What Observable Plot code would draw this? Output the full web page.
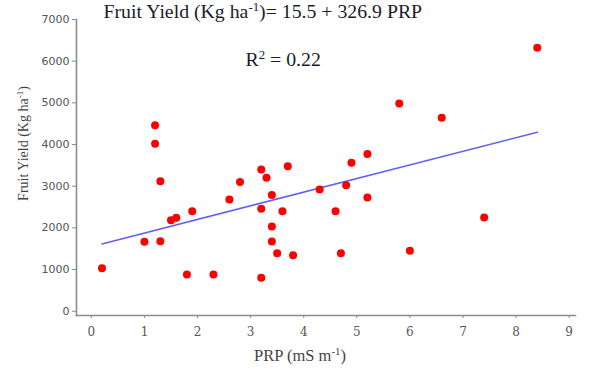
<!DOCTYPE html>
<html>
<head>
<meta charset="utf-8">
<script src="https://cdn.jsdelivr.net/npm/d3@7"></script>
<script src="https://cdn.jsdelivr.net/npm/@observablehq/plot@0.6"></script>
<style>
  html, body { margin: 0; padding: 0; background: #fff; }
  #chart svg { display: block; }
</style>
</head>
<body>
<div id="chart"></div>
<script>
// PRP (mS m-1) values of each observation
const prp = [0.2, 1.0, 1.2, 1.2, 1.3, 1.3, 1.5, 1.6, 1.8, 1.9, 2.3, 2.6, 2.8, 3.2, 3.2, 3.2, 3.3, 3.4,
             3.4, 3.4, 3.5, 3.6, 3.7, 3.8, 4.3, 4.6, 4.7, 4.8, 4.9, 5.2, 5.2, 5.8, 6.0, 6.6, 7.4, 8.4];
// Fruit yield (Kg ha-1) of each observation
const fruitYield = [1030, 1665, 4460, 4020, 3120, 1680, 2180, 2240, 880, 2400, 880, 2680, 3100, 3400, 2460, 800, 3200, 2790,
                    2030, 1670, 1390, 2400, 3480, 1345, 2920, 2400, 1390, 3020, 3560, 3770, 2730, 4985, 1450, 4640, 2250, 6320];
// fitted trend line end points
const trendX = [0.2, 8.4];
const trendY = [1615, 4296];
// tick values
const xTicks = [0, 1, 2, 3, 4, 5, 6, 7, 8, 9];
const yTicks = [0, 1000, 2000, 3000, 4000, 5000, 6000, 7000];
// texts
const titleText = "Fruit Yield (Kg ha^{-1})= 15.5 + 326.9 PRP";
const r2Text = "R^{2} = 0.22";
const xLabel = "PRP (mS m^{-1})";
const yLabel = "Fruit Yield (Kg ha^{-1})";

const points = prp.map((x, i) => ({x, y: fruitYield[i]}));
const trend = trendX.map((x, i) => ({x, y: trendY[i]}));

const axisGray = "#8c8c8c";
const serif = "'Liberation Serif', 'Times New Roman', serif";

const chart = Plot.plot({
  width: 589,
  height: 371,
  marginLeft: 76,
  marginRight: 14,
  marginTop: 19,
  marginBottom: 56,
  style: {background: "#fff", fontFamily: serif},
  x: {domain: [-0.28, 9.12]},
  y: {domain: [-103, 7000]},
  marks: [
    Plot.frame({anchor: "left", stroke: axisGray, strokeWidth: 1.6}),
    Plot.frame({anchor: "bottom", stroke: axisGray, strokeWidth: 1.6}),
    Plot.axisY({ticks: yTicks, tickSize: 4, tickPadding: 3, stroke: axisGray, fill: "#555",
                fontSize: 11, fontFamily: "'DejaVu Sans', Verdana, sans-serif", label: null, tickFormat: d => String(d)}),
    Plot.axisX({ticks: xTicks, tickSize: 3, tickPadding: 9, stroke: axisGray, fill: "#555",
                fontSize: 12, fontFamily: "'DejaVu Serif', serif", label: null, tickFormat: d => String(d)}),
    Plot.line(trend, {x: "x", y: "y", stroke: "#6060f4", strokeWidth: 1.5}),
    Plot.dot(points, {x: "x", y: "y", r: 4, fill: "#ff0000", stroke: "none"}),
    Plot.text([titleText], {frameAnchor: "top-left", text: d => d, textAnchor: "start", lineAnchor: "top",
                dx: 27, dy: -16, fontSize: 19.8, fill: "#1c1c2c", fontFamily: serif}),
    Plot.text([r2Text], {frameAnchor: "top-left", text: d => d, textAnchor: "start", lineAnchor: "top",
                dx: 169, dy: 32, fontSize: 19.8, fill: "#1c1c2c", fontFamily: serif}),
    Plot.text([xLabel], {frameAnchor: "bottom", text: d => d, textAnchor: "middle", lineAnchor: "top",
                dx: -26, dy: 34, fontSize: 16.5, fill: "#444", fontFamily: serif}),
    Plot.text([yLabel], {frameAnchor: "left", text: d => d, textAnchor: "middle", lineAnchor: "middle",
                rotate: -90, dx: -53, dy: -24, fontSize: 14, fill: "#444", fontFamily: serif})
  ]
});

// turn ^{...} into superscript tspans
chart.querySelectorAll("text, tspan").forEach(el => {
  if (el.children.length) return;
  const s = el.textContent;
  if (!s.includes("^{")) return;
  el.textContent = "";
  const re = /\^\{([^}]*)\}/g;
  let last = 0, m;
  const ns = "http://www.w3.org/2000/svg";
  while ((m = re.exec(s))) {
    if (m.index > last) {
      const t = document.createElementNS(ns, "tspan");
      t.textContent = s.slice(last, m.index);
      el.appendChild(t);
    }
    const sup = document.createElementNS(ns, "tspan");
    sup.textContent = m[1];
    sup.setAttribute("baseline-shift", "super");
    sup.setAttribute("font-size", "65%");
    el.appendChild(sup);
    last = re.lastIndex;
  }
  if (last < s.length) {
    const t = document.createElementNS(ns, "tspan");
    t.textContent = s.slice(last);
    el.appendChild(t);
  }
});

document.getElementById("chart").appendChild(chart);
</script>
</body>
</html>
